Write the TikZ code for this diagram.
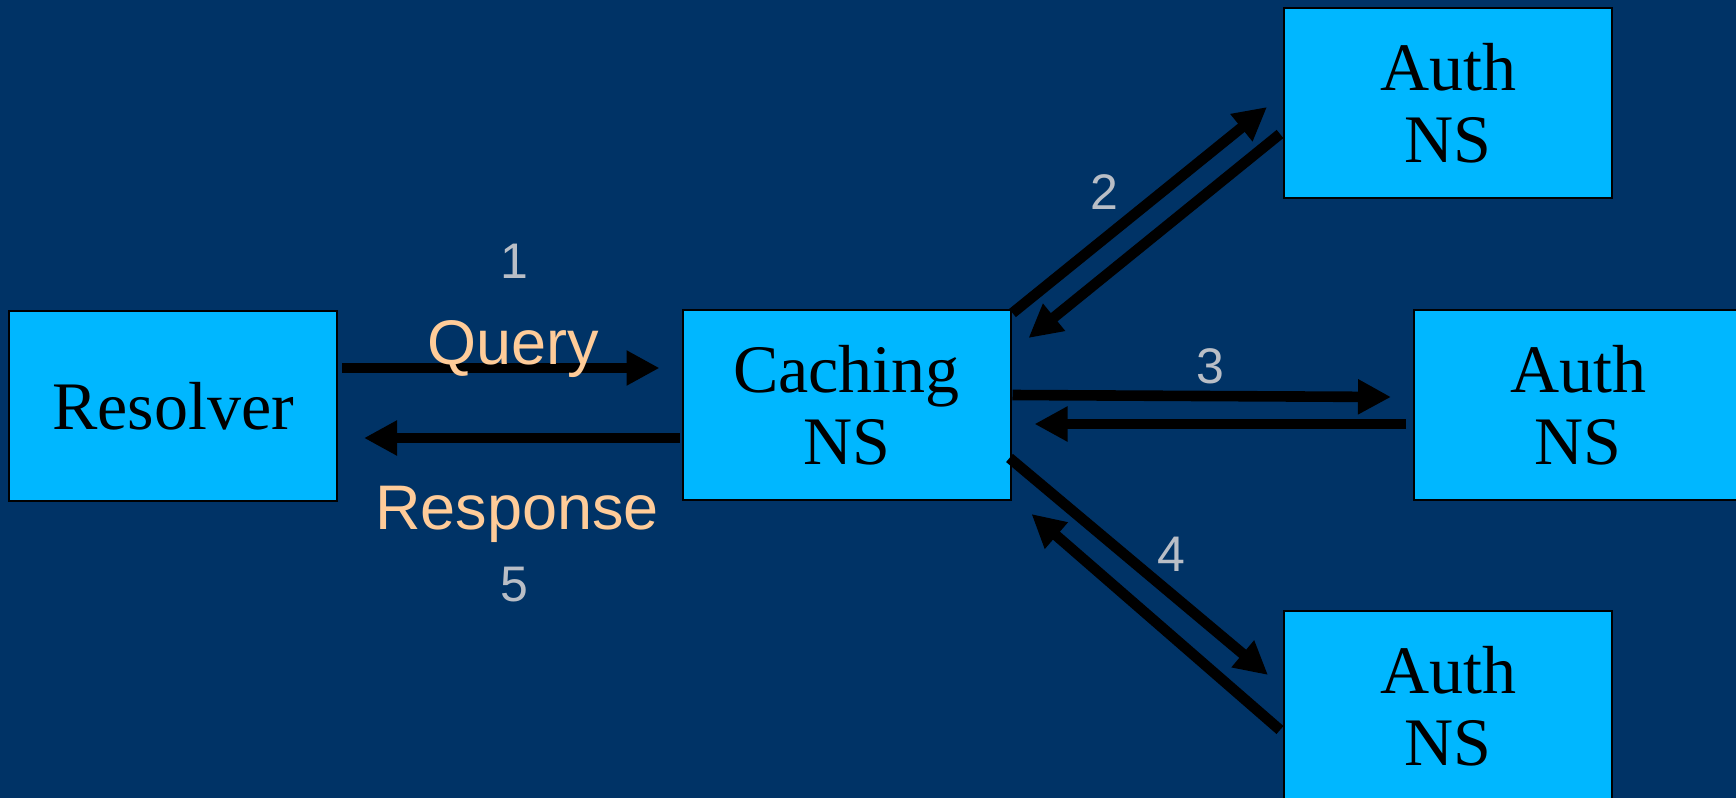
\documentclass[tikz,border=0pt]{standalone}
\usepackage{fontspec}
\setmainfont{Liberation Serif}
\newfontfamily\labelfont{Liberation Sans}
\usetikzlibrary{
    arrows.meta,
    calc,
    positioning
}
\definecolor{slidebg}{RGB}{0,51,102}
\definecolor{boxblue}{RGB}{0,183,255}
\definecolor{peach}{RGB}{255,204,153}
\definecolor{stepgrey}{RGB}{185,190,198}
\tikzset{
    server/.style={draw=black, line width=1pt, fill=boxblue, minimum width=164pt,
        minimum height=95pt, align=center, font=\fontsize{34}{36}\selectfont},
    flow/.style={line width=5.3pt, -{Triangle[length=16.5pt, width=16.5pt]}},
    msg/.style={text=peach, anchor=base, font=\labelfont\fontsize{31.5}{34}\selectfont},
    stepno/.style={text=stepgrey, font=\labelfont\fontsize{25}{28}\selectfont}
}

\begin{document}
\begin{tikzpicture}[x=0.5pt, y=-0.5pt]
    \fill[slidebg] (0,0) rectangle (1736,798);
    \useasboundingbox (0,0) rectangle (1736,798);
    \node[server] (res) at (173,406) {Resolver};
    \node[server] (cache) at (846.5,405) {Caching\\NS};
    \node[server] (auth1) at (1448,103) {Auth\\NS};
    \node[server] (auth2) at (1578,405) {Auth\\NS};
    \node[server] (auth3) at (1448,706) {Auth\\NS};
    % resolver <-> caching
    \draw[flow] ($(res.east)+(4,-38)$) -- ($(cache.west)+(-22,-37)$);
    \draw[flow] ($(cache.west)+(-2,33)$) -- ($(res.east)+(26,32)$);
    \node[stepno] (n1) at (514,261) {1};
    \node[msg] (query) at (513,364) {Query};
    \node[msg] (resp) at (517,529) {Response};
    \node[stepno] (n5) at (514,585) {5};
    % caching <-> auth servers
    \draw[flow] ($(cache.north east)+(1,4)$) -- ($(auth1.west)+(-16,4)$);
    \draw[flow] ($(auth1.west)+(-3,31)$) -- ($(cache.north east)+(17,29)$);
    \draw[flow] ($(cache.east)+(1,-10)$) -- ($(auth2.west)+(-22,-8)$);
    \draw[flow] ($(auth2.west)+(-7,19)$) -- ($(cache.east)+(23,19)$);
    \draw[flow] ($(cache.east)+(-2,53)$) -- ($(auth3.west)+(-15,-31)$);
    \draw[flow] ($(auth3.west)+(-3,24)$) -- ($(cache.south east)+(20,13)$);
    \node[stepno] (n2) at (1104,192) {2};
    \node[stepno] (n3) at (1210,366) {3};
    \node[stepno] (n4) at (1171,554) {4};
\end{tikzpicture}
\end{document}
